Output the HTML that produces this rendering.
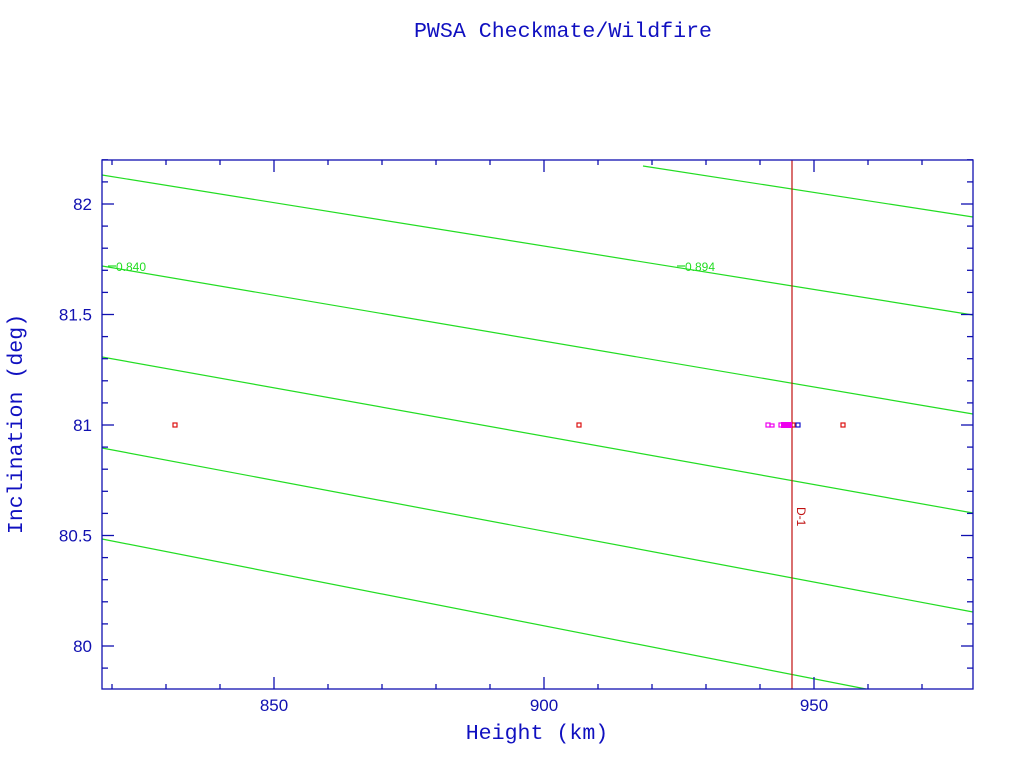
<!DOCTYPE html>
<html><head><meta charset="utf-8"><style>
html,body{margin:0;padding:0;background:#fff;width:1024px;height:768px;overflow:hidden}
</style></head><body>
<svg id="s" width="1024" height="768" xmlns="http://www.w3.org/2000/svg">
<rect width="1024" height="768" fill="#fff"/>
<text x="563" y="37" text-anchor="middle" font-family="Liberation Mono, monospace" font-size="21.6" fill="#1010c0">PWSA Checkmate/Wildfire</text>
<text x="537" y="739" text-anchor="middle" font-family="Liberation Mono, monospace" font-size="21.6" fill="#1010c0">Height (km)</text>
<text transform="translate(22,424) rotate(-90)" text-anchor="middle" font-family="Liberation Mono, monospace" font-size="21.6" fill="#1010c0">Inclination (deg)</text>
<g stroke="#22dd22" stroke-width="1.2" fill="none">
<line x1="643" y1="166" x2="973" y2="217"/>
<line x1="102" y1="175" x2="973" y2="315"/>
<line x1="102" y1="266" x2="973" y2="414"/>
<line x1="102" y1="357" x2="973" y2="513"/>
<line x1="102" y1="448" x2="973" y2="612"/>
<line x1="102" y1="539" x2="866" y2="689"/>
<line x1="108" y1="266" x2="116" y2="266"/>
<line x1="677" y1="266" x2="685" y2="266"/>
</g>
<g font-family="Liberation Sans, sans-serif" font-size="12" fill="#22dd22">
<text x="116" y="271">0.840</text>
<text x="685" y="271">0.894</text>
</g>
<line x1="792" y1="160" x2="792" y2="689" stroke="#c01010" stroke-width="1.2"/>
<text transform="translate(797,507) rotate(90)" font-family="Liberation Sans, sans-serif" font-size="12" fill="#c01010">D-1</text>
<g fill="none" stroke-width="1.2">
<rect x="173" y="423" width="4" height="4" stroke="#dd1111"/>
<rect x="577" y="423" width="4" height="4" stroke="#dd1111"/>
<rect x="841" y="423" width="4" height="4" stroke="#dd1111"/>
<rect x="766" y="423" width="4" height="4" stroke="#ee00ee"/>
<rect x="770" y="424" width="4" height="3" stroke="#ee00ee"/>
<rect x="779" y="423" width="4" height="4" stroke="#ee00ee"/>
<rect x="791" y="423" width="4" height="4" stroke="#dd1111"/>
<rect x="796" y="423" width="4" height="4" stroke="#1111cc"/>
</g>
<rect x="781" y="422" width="11" height="6" fill="#ee00ee"/>
<g id="ax" stroke="#1010b0" stroke-width="1.3" fill="none">
<rect x="102" y="160" width="871" height="529"/>
</g>
<g id="lb" font-family="Liberation Sans, sans-serif" font-size="17" fill="#1010b0"></g>
</svg>
<script>
var ns="http://www.w3.org/2000/svg",ax=document.getElementById('ax'),lb=document.getElementById('lb');
function L(a,b,c,d){var l=document.createElementNS(ns,'line');l.setAttribute('x1',a);l.setAttribute('y1',b);l.setAttribute('x2',c);l.setAttribute('y2',d);ax.appendChild(l);}
function T(x,y,t,anc){var e=document.createElementNS(ns,'text');e.setAttribute('x',x);e.setAttribute('y',y);e.setAttribute('text-anchor',anc);e.textContent=t;lb.appendChild(e);}
for(var k=820;k<=979;k+=10){var x=274+(k-850)*5.4;var maj=(k%50==0);var len=maj?12:5;
L(x,689,x,689-len);L(x,160,x,160+len);if(maj)T(x,711,k,'middle');}
for(var i=0;i<=24;i++){var v=79.8+i*0.1;if(v<79.805||v>82.2)continue;var y=646-(v-80)*221;var maj=Math.abs(v*2-Math.round(v*2))<1e-6;var len=maj?12:6;
L(102,y,102+len,y);L(973,y,973-len,y);if(maj)T(92,y+6,(Math.round(v*10)/10).toString(),'end');}
</script>
</body></html>
